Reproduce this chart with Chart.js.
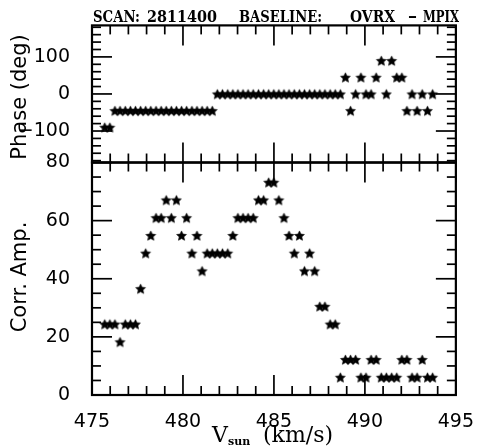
<!DOCTYPE html>
<html><head><meta charset="utf-8">
<script src="https://cdn.jsdelivr.net/npm/chart.js@4.4.0/dist/chart.umd.min.js"></script>
<style>html,body{margin:0;padding:0;background:#fff}canvas{display:block}</style>
</head><body>
<canvas id="c" width="482" height="446"></canvas>
<script>
// ---- data ----
const velocities = [
 475.70,475.98,476.26,476.54,476.83,477.11,477.39,477.67,477.95,478.23,
 478.52,478.80,479.08,479.36,479.64,479.92,480.20,480.49,480.77,481.05,
 481.33,481.61,481.89,482.17,482.46,482.74,483.02,483.30,483.58,483.86,
 484.15,484.43,484.71,484.99,485.27,485.55,485.83,486.12,486.40,486.68,
 486.96,487.24,487.52,487.80,488.09,488.37,488.65,488.93,489.21,489.49,
 489.78,490.06,490.34,490.62,490.90,491.18,491.47,491.75,492.03,492.31,
 492.59,492.87,493.15,493.44,493.72];
const phaseDeg = [
 -90,-90,-45,-45,-45,-45,-45,-45,-45,-45,
 -45,-45,-45,-45,-45,-45,-45,-45,-45,-45,
 -45,-45,0,0,0,0,0,0,0,0,
 0,0,0,0,0,0,0,0,0,0,
 0,0,0,0,0,0,0,45,-45,0,
 45,0,0,45,90,0,90,45,45,-45,
 0,-45,0,-45,0];
const corrAmp = [
 24.4,24.4,24.4,18.3,24.4,24.4,24.4,36.6,48.8,54.9,
 61.0,61.0,67.1,61.0,67.1,54.9,61.0,48.8,54.9,42.7,
 48.8,48.8,48.8,48.8,48.8,54.9,61.0,61.0,61.0,61.0,
 67.1,67.1,73.2,73.2,67.1,61.0,54.9,48.8,54.9,42.7,
 48.8,42.7,30.5,30.5,24.4,24.4,6.1,12.2,12.2,12.2,
 6.1,6.1,12.2,12.2,6.1,6.1,6.1,6.1,12.2,12.2,
 6.1,6.1,12.2,6.1,6.1];
const xTicks = [475,480,485,490,495];
const phaseTicks = [-100,0,100];
const ampTicks = [0,20,40,60,80];

function makeStar(R){
  const s = Math.ceil(2*R+2);
  const c = document.createElement('canvas'); c.width = s; c.height = s;
  const g = c.getContext('2d'); g.fillStyle = '#000'; g.beginPath();
  for (let k=0;k<10;k++){
    const r = k%2 ? R*0.48 : R;
    const a = -Math.PI/2 + k*Math.PI/5;
    const px = s/2 + r*Math.cos(a), py = s/2 + 0.6 + r*Math.sin(a);
    if (k) g.lineTo(px,py); else g.moveTo(px,py);
  }
  g.closePath(); g.fill();
  g.strokeStyle = '#000'; g.lineWidth = 0.6; g.stroke();
  return c;
}
const star = makeStar(5.2);

function line(ctx,x1,y1,x2,y2){ctx.beginPath();ctx.moveTo(x1,y1);ctx.lineTo(x2,y2);ctx.stroke();}
function fitText(ctx, text, x, y, w){
  const m = ctx.measureText(text).width;
  ctx.save(); ctx.translate(x, y); ctx.scale(w / m, 1); ctx.fillText(text, 0, 0); ctx.restore();
}

const framePlugin = {
  id: 'frame',
  afterDatasetsDraw(chart){
    const ctx = chart.ctx, xs = chart.scales.x;
    const L = chart.chartArea.left, R = chart.chartArea.right;
    ctx.save(); ctx.strokeStyle = '#000'; ctx.lineCap = 'butt';
    const panels = [{s: chart.scales.yP, minor: 20, major: 100}, {s: chart.scales.yA, minor: 5, major: 20}];
    panels.forEach(p => {
      const T = p.s.top, B = p.s.bottom;
      ctx.lineWidth = 1.7;
      const start = Math.ceil(p.s.min / p.minor) * p.minor;
      for (let v = start; v <= p.s.max + 1e-9; v += p.minor){
        const y = p.s.getPixelForValue(v);
        const len = Math.abs(v % p.major) < 1e-9 ? 20 : 9;
        line(ctx, L, y, L+len, y); line(ctx, R, y, R-len, y);
      }
      for (let v = xs.min; v <= xs.max + 1e-9; v += 1){
        const x = xs.getPixelForValue(v);
        const len = (Math.round(v) % 5 === 0) ? 20 : 9;
        line(ctx, x, T, x, T+len); line(ctx, x, B, x, B-len);
      }
      ctx.lineWidth = 2.2;
      ctx.strokeRect(L, T, R-L, B-T);
    });
    ctx.restore();
  },
  afterDraw(chart){
    const ctx = chart.ctx;
    ctx.save(); ctx.fillStyle = '#000'; ctx.textBaseline = 'alphabetic'; ctx.textAlign = 'left';
    // main title
    ctx.font = 'bold 16px "DejaVu Serif"';
    fitText(ctx, 'SCAN:', 93, 22, 47);
    fitText(ctx, '2811400', 147, 22, 70);
    fitText(ctx, 'BASELINE:', 239, 22, 83);
    fitText(ctx, 'OVRX', 350, 22, 45);
    fitText(ctx, '\u2013', 408, 22, 9);
    fitText(ctx, 'MPIX', 423, 22, 36);
    // x title
    ctx.font = '22px "DejaVu Serif"';
    ctx.fillText('V', 212, 442);
    ctx.font = 'bold 11px "DejaVu Serif"';
    ctx.fillText('sun', 228, 445);
    ctx.font = '22px "DejaVu Serif"';
    ctx.fillText('(km/s)', 263, 442);
    // y titles
    ctx.font = '21px "DejaVu Sans"';
    ctx.textAlign = 'center';
    const yP = chart.scales.yP;
    ctx.save(); ctx.translate(26, (yP.top + yP.bottom)/2 + 3); ctx.rotate(-Math.PI/2);
    ctx.fillText('Phase (deg)', 0, 0); ctx.restore();
    ctx.save(); ctx.translate(26, 277); ctx.rotate(-Math.PI/2);
    ctx.fillText('Corr. Amp.', 0, 0); ctx.restore();
    ctx.restore();
  }
};

Chart.defaults.font.family = '"DejaVu Sans"';
Chart.defaults.color = '#000';

const tickFont = {family: '"DejaVu Sans"', size: 19};
const fmt = v => (v < 0 ? '\u2212' + Math.abs(v) : String(v));

new Chart(document.getElementById('c'), {
  type: 'scatter',
  data: {
    datasets: [
      {label: 'Phase', yAxisID: 'yP', data: velocities.map((v,i)=>({x:v, y:phaseDeg[i]})),
       pointStyle: star, pointRadius: 5, showLine: false},
      {label: 'Corr. Amp.', yAxisID: 'yA', data: velocities.map((v,i)=>({x:v, y:corrAmp[i]})),
       pointStyle: star, pointRadius: 5, showLine: false}
    ]
  },
  options: {
    responsive: false, animation: false, devicePixelRatio: 1,
    layout: {padding: {top: 23, right: 20.5, left: 0, bottom: 0}},
    plugins: {legend: {display: false}, tooltip: {enabled: false}, title: {display: false}},
    scales: {
      x: {type: 'linear', min: 475, max: 495, position: 'bottom',
          grid: {display: false}, border: {display: false},
          afterBuildTicks: s => { s.ticks = xTicks.map(v => ({value: v})); },
          afterFit: s => { s.height = 51; },
          ticks: {font: tickFont, padding: 8, maxRotation: 0, autoSkip: false, callback: v => String(v)}},
      yA: {type: 'linear', min: 0, max: 80, position: 'left', stack: 'st', stackWeight: 234,
          grid: {display: false}, border: {display: false},
          afterBuildTicks: s => { s.ticks = ampTicks.map(v => ({value: v})); },
          afterFit: s => { s.width = 92; },
          ticks: {font: tickFont, padding: 14, autoSkip: false, callback: v => fmt(v)}},
      yP: {type: 'linear', min: -185, max: 185, position: 'left', stack: 'st', stackWeight: 138,
          grid: {display: false}, border: {display: false},
          afterBuildTicks: s => { s.ticks = phaseTicks.map(v => ({value: v})); },
          afterFit: s => { s.width = 92; },
          ticks: {font: tickFont, padding: 14, autoSkip: false, callback: v => fmt(v)}}
    }
  },
  plugins: [framePlugin]
});
</script>
</body></html>
